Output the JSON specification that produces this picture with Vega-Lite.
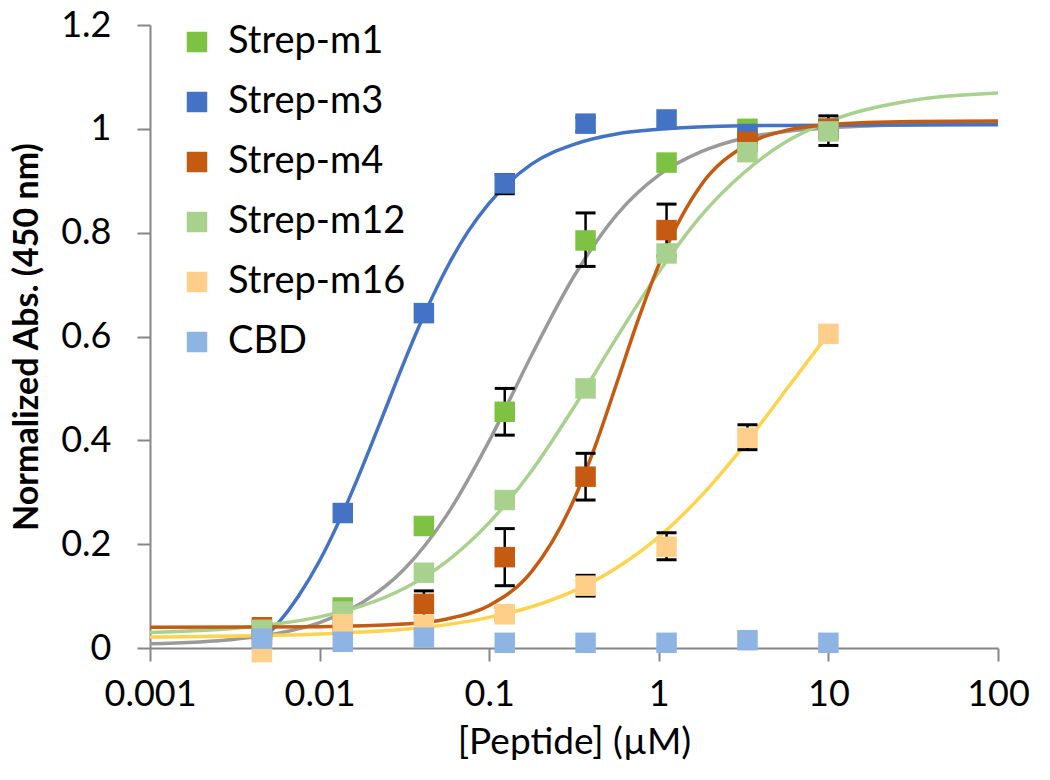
{
  "$schema": "https://vega.github.io/schema/vega-lite/v6.json",
  "width": 848,
  "height": 623,
  "autosize": "none",
  "padding": {"left": 150, "top": 25, "right": 52, "bottom": 132},
  "background": "white",
  "config": {"view": {"stroke": null}, "font": "Lato"},
  "datasets": {
    "pts": [
      {"s": "Strep-m1", "x": 0.00457, "y": 0.035},
      {"s": "Strep-m1", "x": 0.0137, "y": 0.078},
      {"s": "Strep-m1", "x": 0.0412, "y": 0.235},
      {"s": "Strep-m1", "x": 0.1235, "y": 0.455, "lo": 0.41, "hi": 0.5},
      {"s": "Strep-m1", "x": 0.37, "y": 0.785, "lo": 0.735, "hi": 0.838},
      {"s": "Strep-m1", "x": 1.111, "y": 0.935},
      {"s": "Strep-m1", "x": 3.333, "y": 1.0},
      {"s": "Strep-m1", "x": 10, "y": 1.0},
      {"s": "Strep-m3", "x": 0.00457, "y": 0.025},
      {"s": "Strep-m3", "x": 0.0137, "y": 0.26},
      {"s": "Strep-m3", "x": 0.0412, "y": 0.645},
      {"s": "Strep-m3", "x": 0.1235, "y": 0.895, "lo": 0.875, "hi": 0.912},
      {"s": "Strep-m3", "x": 0.37, "y": 1.01, "lo": 0.995, "hi": 1.022},
      {"s": "Strep-m3", "x": 1.111, "y": 1.018},
      {"s": "Strep-m3", "x": 3.333, "y": 0.99},
      {"s": "Strep-m3", "x": 10, "y": 1.0},
      {"s": "Strep-m4", "x": 0.00457, "y": 0.04},
      {"s": "Strep-m4", "x": 0.0137, "y": 0.045},
      {"s": "Strep-m4", "x": 0.0412, "y": 0.085, "lo": 0.06, "hi": 0.11},
      {"s": "Strep-m4", "x": 0.1235, "y": 0.175, "lo": 0.12, "hi": 0.23},
      {"s": "Strep-m4", "x": 0.37, "y": 0.33, "lo": 0.285, "hi": 0.375},
      {"s": "Strep-m4", "x": 1.111, "y": 0.805, "lo": 0.755, "hi": 0.855},
      {"s": "Strep-m4", "x": 3.333, "y": 0.975},
      {"s": "Strep-m4", "x": 10, "y": 1.0},
      {"s": "Strep-m12", "x": 0.00457, "y": 0.035},
      {"s": "Strep-m12", "x": 0.0137, "y": 0.07},
      {"s": "Strep-m12", "x": 0.0412, "y": 0.145},
      {"s": "Strep-m12", "x": 0.1235, "y": 0.285},
      {"s": "Strep-m12", "x": 0.37, "y": 0.5},
      {"s": "Strep-m12", "x": 1.111, "y": 0.76},
      {"s": "Strep-m12", "x": 3.333, "y": 0.955},
      {"s": "Strep-m12", "x": 10, "y": 0.995, "lo": 0.968, "hi": 1.025},
      {"s": "Strep-m16", "x": 0.00457, "y": -0.008},
      {"s": "Strep-m16", "x": 0.0137, "y": 0.046},
      {"s": "Strep-m16", "x": 0.0412, "y": 0.045},
      {"s": "Strep-m16", "x": 0.1235, "y": 0.065, "lo": 0.055, "hi": 0.078},
      {"s": "Strep-m16", "x": 0.37, "y": 0.12, "lo": 0.1, "hi": 0.14},
      {"s": "Strep-m16", "x": 1.111, "y": 0.195, "lo": 0.17, "hi": 0.222},
      {"s": "Strep-m16", "x": 3.333, "y": 0.405, "lo": 0.382, "hi": 0.43},
      {"s": "Strep-m16", "x": 10, "y": 0.605},
      {"s": "CBD", "x": 0.00457, "y": 0.018},
      {"s": "CBD", "x": 0.0137, "y": 0.012},
      {"s": "CBD", "x": 0.0412, "y": 0.02},
      {"s": "CBD", "x": 0.1235, "y": 0.01},
      {"s": "CBD", "x": 0.37, "y": 0.01},
      {"s": "CBD", "x": 1.111, "y": 0.01},
      {"s": "CBD", "x": 3.333, "y": 0.015},
      {"s": "CBD", "x": 10, "y": 0.01}
    ],
    "curves": [
      {"c": "m1", "x": 0.001, "y": 0.008},
      {"c": "m1", "x": 0.003162, "y": 0.017},
      {"c": "m1", "x": 0.005623, "y": 0.028},
      {"c": "m1", "x": 0.01, "y": 0.049},
      {"c": "m1", "x": 0.01778, "y": 0.087},
      {"c": "m1", "x": 0.03162, "y": 0.152},
      {"c": "m1", "x": 0.05623, "y": 0.256},
      {"c": "m1", "x": 0.1, "y": 0.399},
      {"c": "m1", "x": 0.1778, "y": 0.564},
      {"c": "m1", "x": 0.3162, "y": 0.716},
      {"c": "m1", "x": 0.5623, "y": 0.834},
      {"c": "m1", "x": 1, "y": 0.911},
      {"c": "m1", "x": 1.778, "y": 0.956},
      {"c": "m1", "x": 3.162, "y": 0.982},
      {"c": "m1", "x": 5.623, "y": 0.995},
      {"c": "m1", "x": 10, "y": 1.002},
      {"c": "m1", "x": 31.62, "y": 1.008},
      {"c": "m1", "x": 100, "y": 1.01},
      {"c": "m3", "x": 0.001, "y": -0.0825},
      {"c": "m3", "x": 0.001778, "y": -0.064},
      {"c": "m3", "x": 0.003162, "y": -0.026},
      {"c": "m3", "x": 0.004217, "y": 0.0044},
      {"c": "m3", "x": 0.005623, "y": 0.0455},
      {"c": "m3", "x": 0.0075, "y": 0.0998},
      {"c": "m3", "x": 0.01, "y": 0.168},
      {"c": "m3", "x": 0.01334, "y": 0.2516},
      {"c": "m3", "x": 0.01778, "y": 0.347},
      {"c": "m3", "x": 0.02371, "y": 0.449},
      {"c": "m3", "x": 0.03162, "y": 0.552},
      {"c": "m3", "x": 0.04217, "y": 0.648},
      {"c": "m3", "x": 0.05623, "y": 0.732},
      {"c": "m3", "x": 0.075, "y": 0.802},
      {"c": "m3", "x": 0.1, "y": 0.857},
      {"c": "m3", "x": 0.1778, "y": 0.932},
      {"c": "m3", "x": 0.3162, "y": 0.97},
      {"c": "m3", "x": 0.5623, "y": 0.99},
      {"c": "m3", "x": 1, "y": 0.999},
      {"c": "m3", "x": 3.162, "y": 1.006},
      {"c": "m3", "x": 10, "y": 1.007},
      {"c": "m3", "x": 100, "y": 1.008},
      {"c": "m12", "x": 0.001, "y": 0.03},
      {"c": "m12", "x": 0.003162, "y": 0.038},
      {"c": "m12", "x": 0.01, "y": 0.06},
      {"c": "m12", "x": 0.01778, "y": 0.081},
      {"c": "m12", "x": 0.03162, "y": 0.115},
      {"c": "m12", "x": 0.05623, "y": 0.167},
      {"c": "m12", "x": 0.1, "y": 0.2415},
      {"c": "m12", "x": 0.1778, "y": 0.341},
      {"c": "m12", "x": 0.3162, "y": 0.464},
      {"c": "m12", "x": 0.5623, "y": 0.597},
      {"c": "m12", "x": 1, "y": 0.724},
      {"c": "m12", "x": 1.778, "y": 0.833},
      {"c": "m12", "x": 3.162, "y": 0.915},
      {"c": "m12", "x": 5.623, "y": 0.975},
      {"c": "m12", "x": 10, "y": 1.014},
      {"c": "m12", "x": 31.62, "y": 1.055},
      {"c": "m12", "x": 100, "y": 1.069},
      {"c": "m16", "x": 0.001, "y": 0.021},
      {"c": "m16", "x": 0.003162, "y": 0.023},
      {"c": "m16", "x": 0.01, "y": 0.027},
      {"c": "m16", "x": 0.03162, "y": 0.036},
      {"c": "m16", "x": 0.05623, "y": 0.045},
      {"c": "m16", "x": 0.1, "y": 0.059},
      {"c": "m16", "x": 0.1778, "y": 0.0795},
      {"c": "m16", "x": 0.3162, "y": 0.11},
      {"c": "m16", "x": 0.5623, "y": 0.154},
      {"c": "m16", "x": 1, "y": 0.214},
      {"c": "m16", "x": 1.778, "y": 0.293},
      {"c": "m16", "x": 3.162, "y": 0.389},
      {"c": "m16", "x": 5.623, "y": 0.497},
      {"c": "m16", "x": 10, "y": 0.605},
      {"c": "m4", "x": 0.001, "y": 0.04},
      {"c": "m4", "x": 0.01, "y": 0.041},
      {"c": "m4", "x": 0.03162, "y": 0.046},
      {"c": "m4", "x": 0.05623, "y": 0.056},
      {"c": "m4", "x": 0.1, "y": 0.082},
      {"c": "m4", "x": 0.1778, "y": 0.147},
      {"c": "m4", "x": 0.3162, "y": 0.286},
      {"c": "m4", "x": 0.4217, "y": 0.389},
      {"c": "m4", "x": 0.5623, "y": 0.508},
      {"c": "m4", "x": 0.75, "y": 0.629},
      {"c": "m4", "x": 1, "y": 0.738},
      {"c": "m4", "x": 1.778, "y": 0.892},
      {"c": "m4", "x": 3.162, "y": 0.966},
      {"c": "m4", "x": 5.623, "y": 0.997},
      {"c": "m4", "x": 10, "y": 1.008},
      {"c": "m4", "x": 31.62, "y": 1.014},
      {"c": "m4", "x": 100, "y": 1.015}
    ]
  },
  "encoding": {
    "x": {
      "field": "x", "type": "quantitative",
      "scale": {"type": "log", "domain": [0.001, 100], "nice": false},
      "axis": {
        "title": "[Peptide] (µM)",
        "values": [0.001, 0.01, 0.1, 1, 10, 100],
        "format": "~g",
        "grid": false,
        "labelFont": "Lato", "labelFontSize": 36, "labelColor": "#000000",
        "labelPadding": 16, "labelFlush": false,
        "titleFont": "Lato", "titleFontSize": 37, "titleFontWeight": "normal", "titleColor": "#000000",
        "titlePadding": 12,
        "domainColor": "#868686", "domainWidth": 2,
        "tickColor": "#868686", "tickWidth": 2, "tickSize": 13
      }
    },
    "y": {
      "field": "y", "type": "quantitative",
      "scale": {"domain": [0, 1.2], "nice": false},
      "axis": {
        "title": "Normalized Abs. (450 nm)",
        "values": [0, 0.2, 0.4, 0.6, 0.8, 1, 1.2],
        "format": "~g",
        "grid": false,
        "labelFont": "Lato", "labelFontSize": 36, "labelColor": "#000000",
        "labelPadding": 26,
        "titleFont": "Lato", "titleFontSize": 34, "titleFontWeight": "bold", "titleColor": "#000000",
        "titlePadding": 16,
        "domainColor": "#868686", "domainWidth": 2,
        "tickColor": "#868686", "tickWidth": 2, "tickSize": 13
      }
    }
  },
  "layer": [
    {
      "data": {"name": "curves"},
      "mark": {"type": "line", "clip": true, "strokeWidth": 3.5, "interpolate": "monotone"},
      "encoding": {
        "detail": {"field": "c"},
        "stroke": {
          "field": "c", "type": "nominal", "legend": null,
          "scale": {"domain": ["m1", "m3", "m12", "m16", "m4"], "range": ["#9a9a9a", "#4472C4", "#A9D18E", "#FFD34E", "#C55A11"]}
        },
        "order": {"field": "x"}
      }
    },
    {
      "data": {"name": "pts"},
      "transform": [{"filter": "isValid(datum.lo)"}],
      "mark": {"type": "rule", "color": "#000000", "strokeWidth": 2.5},
      "encoding": {
        "y": {"field": "lo", "type": "quantitative"},
        "y2": {"field": "hi"}
      }
    },
    {
      "data": {"name": "pts"},
      "transform": [{"filter": "isValid(datum.lo)"}],
      "mark": {"type": "tick", "orient": "horizontal", "color": "#000000", "size": 20, "thickness": 3, "opacity": 1},
      "encoding": {"y": {"field": "lo", "type": "quantitative"}}
    },
    {
      "data": {"name": "pts"},
      "transform": [{"filter": "isValid(datum.lo)"}],
      "mark": {"type": "tick", "orient": "horizontal", "color": "#000000", "size": 20, "thickness": 3, "opacity": 1},
      "encoding": {"y": {"field": "hi", "type": "quantitative"}}
    },
    {
      "data": {"name": "pts"},
      "mark": {"type": "point", "shape": "square", "filled": true, "size": 420, "opacity": 1},
      "encoding": {
        "color": {
          "field": "s", "type": "nominal",
          "scale": {
            "domain": ["Strep-m1", "Strep-m3", "Strep-m4", "Strep-m12", "Strep-m16", "CBD"],
            "range": ["#7DC242", "#4472C4", "#C55A11", "#A9D18E", "#FFCF8A", "#8EB4E3"]
          },
          "legend": {
            "orient": "none", "legendX": 28, "legendY": -2,
            "title": null,
            "symbolType": "square", "symbolSize": 420, "symbolStrokeWidth": 0, "symbolOpacity": 1,
            "labelFont": "Lato", "labelFontSize": 38, "labelColor": "#000000", "labelLimit": 0,
            "labelOffset": 12, "rowPadding": 22
          }
        }
      }
    }
  ]
}
